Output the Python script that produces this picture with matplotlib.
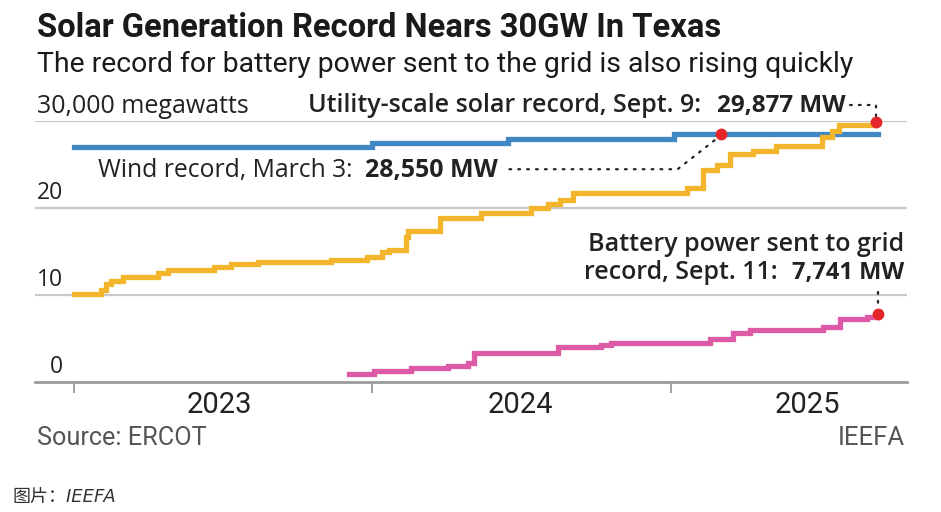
import matplotlib
matplotlib.use('Agg')
import matplotlib.pyplot as plt
import matplotlib.transforms as mtransforms
from matplotlib import font_manager
import pandas as pd

# record highs in thousands of MW, step changes
solar_dates = ['2023-01-01', '2023-02-03', '2023-02-09', '2023-02-15', '2023-03-02',
               '2023-04-14', '2023-04-26', '2023-06-21', '2023-07-12', '2023-08-14',
               '2023-11-11', '2023-12-26', '2024-01-13', '2024-01-21', '2024-02-11',
               '2024-02-14', '2024-03-24', '2024-05-13', '2024-07-13', '2024-08-03',
               '2024-08-18', '2024-09-03', '2025-01-20', '2025-02-09', '2025-02-26',
               '2025-03-14', '2025-04-11', '2025-05-10', '2025-07-05', '2025-07-17',
               '2025-07-26', '2025-09-09']
solar_gw = [10.1, 10.5, 11.2, 11.6, 12.1,
            12.5, 12.8, 13.2, 13.5, 13.8,
            14.0, 14.4, 14.9, 15.2, 16.7,
            17.3, 18.8, 19.4, 20.0, 20.5,
            20.9, 21.7, 22.3, 24.4, 24.9,
            26.2, 26.6, 27.1, 28.2, 28.8,
            29.5, 29.877]

wind_dates = ['2023-01-01', '2024-01-01', '2024-06-15', '2025-01-05', '2025-03-03', '2025-09-11']
wind_gw = [27.0, 27.5, 27.9, 28.5, 28.55, 28.55]

battery_dates = ['2023-12-04', '2024-01-03', '2024-02-18', '2024-04-03', '2024-04-27',
                 '2024-05-05', '2024-08-16', '2024-10-07', '2024-10-19', '2025-02-18',
                 '2025-03-18', '2025-04-08', '2025-07-06', '2025-07-27', '2025-08-29',
                 '2025-09-11']
battery_gw = [0.9, 1.27, 1.6, 1.84, 2.2,
              3.27, 3.96, 4.2, 4.5, 4.9,
              5.6, 6.0, 6.3, 7.2, 7.5,
              7.741]

solar_record = ('2025-09-09', 29.877)
wind_record = ('2025-03-03', 28.55)
battery_record = ('2025-09-11', 7.741)

year_ticks = ['2023-01-01', '2024-01-01', '2025-01-01']
year_label_pos = ['2023-06-28', '2024-06-30', '2025-06-17']
year_labels = ['2023', '2024', '2025']
y_grid = [10, 20, 30]
y_labels = ['0', '10', '20']

names = {f.name for f in font_manager.fontManager.ttflist}
narrow = 'Liberation Sans Narrow' if 'Liberation Sans Narrow' in names else 'Roboto'
body = 'Open Sans'

W, H = 941, 512
fig = plt.figure(figsize=(W / 100, H / 100), dpi=100)
ax = fig.add_axes([35 / W, (H - 381.7) / H, 872 / W, (381.7 - 121) / H])


def fx(x):
    return x / W


def fy(y):
    return 1 - y / H


sd = pd.to_datetime(solar_dates)
wd = pd.to_datetime(wind_dates)
bd = pd.to_datetime(battery_dates)

ax.step(wd, wind_gw, where='post', color='#3f87c5', lw=3.8, solid_joinstyle='miter', zorder=3)
ax.step(sd, solar_gw, where='post', color='#f2b52c', lw=3.8, solid_joinstyle='miter', zorder=4)
ax.step(bd, battery_gw, where='post', color='#dc5aa6', lw=3.8, solid_joinstyle='miter', zorder=3)

for d, v in [solar_record, wind_record, battery_record]:
    ax.plot(pd.Timestamp(d), v, 'o', color='#e4262b', ms=7.5, zorder=6, clip_on=False)

# leader lines
dot = dict(color='#222222', lw=1.6, ls=(0, (0.8, 3.2)), dash_capstyle='round', clip_on=False, zorder=5)
sr = pd.Timestamp(solar_record[0])
ax.plot([pd.Timestamp('2025-08-08'), sr, sr], [31.8, 31.8, 30.6], **dot)
ax.plot([pd.Timestamp('2024-06-17'), pd.Timestamp('2025-01-09'), pd.Timestamp('2025-02-25')],
        [24.45, 24.45, 27.9], **dot)
br = pd.Timestamp(battery_record[0])
ax.plot([br, br], [10.3, 8.5], **dot)

ax.set_ylim(0, 30)
ax.set_xlim(pd.Timestamp('2022-11-14'), pd.Timestamp('2025-10-17'))
for v in y_grid:
    ax.axhline(v, color='#c9c9c9', lw=1.6, zorder=1)

for s in ['top', 'right', 'left']:
    ax.spines[s].set_visible(False)
ax.spines['bottom'].set_color('#9a9a9a')
ax.spines['bottom'].set_linewidth(2)
ax.set_yticks([])
ax.set_xticks(pd.to_datetime(year_ticks))
ax.set_xticklabels([])
ax.tick_params(axis='x', which='major', length=8, width=1.3, color='#9a9a9a')
ax.set_xticks(pd.to_datetime(year_label_pos), minor=True)
ax.set_xticklabels(year_labels, minor=True, fontfamily=narrow, fontsize=21, color='#222222')
ax.tick_params(axis='x', which='minor', length=0, pad=7)

# y labels above grid lines
blend = mtransforms.blended_transform_factory(ax.transAxes, ax.transData)
for v, lab in zip([0, 10, 20], y_labels):
    ax.text(28 / 872, v + 1.0, lab, transform=blend, ha='right', va='baseline',
            fontfamily=body, fontsize=16.5, color='#222222')
fig.text(fx(37), fy(113), '30,000 megawatts', ha='left', va='baseline',
         fontfamily=body, fontsize=18, color='#222222')

# annotations
fig.text(fx(308), fy(112), 'Utility-scale solar record, Sept. 9:', ha='left', va='baseline',
         fontfamily=body, fontsize=18, fontweight='semibold', color='#222222')
fig.text(fx(846), fy(112), '29,877 MW', ha='right', va='baseline',
         fontfamily=body, fontsize=17.5, fontweight='bold', color='#222222')
fig.text(fx(98), fy(177), 'Wind record, March 3:', ha='left', va='baseline',
         fontfamily=body, fontsize=17.8, color='#222222')
fig.text(fx(365), fy(177), '28,550 MW', ha='left', va='baseline',
         fontfamily=body, fontsize=18, fontweight='bold', color='#222222')
fig.text(fx(904), fy(251), 'Battery power sent to grid', ha='right', va='baseline',
         fontfamily=body, fontsize=18, fontweight='semibold', color='#222222')
fig.text(fx(778), fy(279), 'record, Sept. 11:', ha='right', va='baseline',
         fontfamily=body, fontsize=18, fontweight='semibold', color='#222222')
fig.text(fx(904), fy(279), '7,741 MW', ha='right', va='baseline',
         fontfamily=body, fontsize=17.0, fontweight='bold', color='#222222')

# titles and footer
fig.text(fx(37), fy(37), 'Solar Generation Record Nears 30GW In Texas', ha='left', va='baseline',
         fontfamily=narrow, fontsize=23.6, fontweight='bold', color='#1a1a1a')
fig.text(fx(37), fy(72), 'The record for battery power sent to the grid is also rising quickly',
         ha='left', va='baseline', fontfamily=narrow, fontsize=20.4, color='#1a1a1a')
fig.text(fx(37), fy(445), 'Source: ERCOT', ha='left', va='baseline',
         fontfamily=narrow, fontsize=18.2, color='#555555')
fig.text(fx(905), fy(445), 'IEEFA', ha='right', va='baseline',
         fontfamily=narrow, fontsize=18.5, color='#555555')
fig.text(fx(13), fy(502), '图片：IEEFA', ha='left', va='baseline',
         family=['DejaVu Sans', 'Noto Sans CJK SC'], style='italic', fontsize=13,
         color='#333333')

fig.savefig('out.png', dpi=100, facecolor='white')
